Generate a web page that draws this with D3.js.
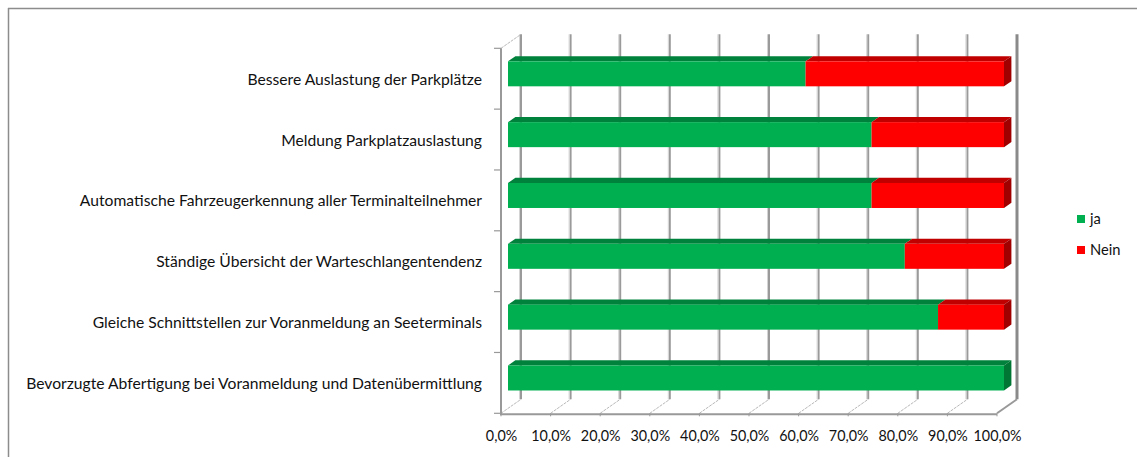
<!DOCTYPE html>
<html><head><meta charset="utf-8">
<script src="https://cdn.jsdelivr.net/npm/d3@7"></script>
<style>
html,body{margin:0;padding:0;background:#fff;}
svg{display:block;font-family:Lato,"Open Sans",sans-serif;}
</style></head>
<body>
<svg id="chart" width="1137" height="457"></svg>
<script>
const categories = [
  "Bessere Auslastung der Parkplätze",
  "Meldung Parkplatzauslastung ",
  "Automatische Fahrzeugerkennung aller Terminalteilnehmer",
  "Ständige Übersicht der Warteschlangentendenz",
  "Gleiche Schnittstellen zur Voranmeldung  an Seeterminals",
  "Bevorzugte Abfertigung bei Voranmeldung und Datenübermittlung"
];
const seriesNames = ["ja", "Nein"];
const jaValues = [60.0, 73.3, 73.3, 80.0, 86.7, 100.0];
const neinValues = [40.0, 26.7, 26.7, 20.0, 13.3, 0.0];
const xTicks = [0, 10, 20, 30, 40, 50, 60, 70, 80, 90, 100];

const colors = {
  ja: {front: "#00b050", top: "#00823c", side: "#007634"},
  Nein: {front: "#ff0000", top: "#c00000", side: "#a00000"}
};

const svg = d3.select("#chart");
const W = 1137, H = 457;

// frame
svg.append("line").attr("x1", 8.5).attr("y1", 8).attr("x2", 8.5).attr("y2", H).attr("stroke", "#8c8c8c").attr("stroke-width", 1.5);
svg.append("line").attr("x1", 8).attr("y1", 8.5).attr("x2", W).attr("y2", 8.5).attr("stroke", "#8c8c8c").attr("stroke-width", 1.5);

const x = d3.scaleLinear().domain([0, 100]).range([501, 997]);
const y = d3.scaleBand().domain(categories).range([48.3, 413.3]).paddingInner(0).paddingOuter(0);
const DX = 20, DY = -14;           // depth projection (full depth)
const yTop = y.range()[0], yBot = y.range()[1];

const deLocale = d3.formatLocale({decimal: ",", thousands: ".", grouping: [3], currency: ["", "€"]});
const fmt = v => deLocale.format(".1f")(v) + "%";

const grid = svg.append("g");
// back wall gridlines
xTicks.forEach((t, i) => {
  const xb = x(t) + DX;
  const last = i === xTicks.length - 1;
  grid.append("line")
    .attr("x1", xb).attr("x2", xb)
    .attr("y1", yTop + DY).attr("y2", yBot + DY)
    .attr("stroke", last ? "#8a8a8a" : "#9a9a9a")
    .attr("stroke-width", last ? 3 : 2);
  if (!last) {
    grid.append("line")
      .attr("x1", xb - 1.5).attr("x2", xb - 1.5)
      .attr("y1", yTop + DY).attr("y2", yBot + DY)
      .attr("stroke", "#d4d4d4").attr("stroke-width", 1);
  }
  // floor diagonals
  grid.append("line")
    .attr("x1", x(t)).attr("y1", yBot)
    .attr("x2", x(t) + DX).attr("y2", yBot + DY)
    .attr("stroke", last ? "#999" : "#b8b8b8")
    .attr("stroke-width", last ? 2 : 1)
    .attr("stroke-dasharray", last ? null : "3,1");
  // small tick below baseline
  grid.append("line")
    .attr("x1", x(t)).attr("x2", x(t))
    .attr("y1", yBot).attr("y2", yBot + 3)
    .attr("stroke", "#999").attr("stroke-width", 1);
});
// top-left wall edge diagonal
grid.append("line")
  .attr("x1", x(0)).attr("y1", yTop).attr("x2", x(0) + DX).attr("y2", yTop + DY)
  .attr("stroke", "#b8b8b8").attr("stroke-width", 1).attr("stroke-dasharray", "3,1");
// front left edge
grid.append("line")
  .attr("x1", x(0)).attr("x2", x(0)).attr("y1", yTop).attr("y2", yBot + 1)
  .attr("stroke", "#999").attr("stroke-width", 2);
// front baseline
grid.append("line")
  .attr("x1", x(0) - 1).attr("x2", x(100)).attr("y1", yBot + 1).attr("y2", yBot + 1)
  .attr("stroke", "#999").attr("stroke-width", 2);
// category ticks
const bounds = categories.map(c => y(c)).concat([yBot]);
bounds.forEach(b => {
  grid.append("line")
    .attr("x1", x(0) - 7).attr("x2", x(0)).attr("y1", b).attr("y2", b)
    .attr("stroke", "#999").attr("stroke-width", 1.2);
});

// bars
const z0 = 0.35, z1 = 0.72;
const barH = 25;
const stackData = categories.map((c, i) => ({cat: c, ja: jaValues[i], Nein: neinValues[i]}));
const stacked = d3.stack().keys(seriesNames)(stackData);

const barsG = svg.append("g");
categories.forEach((c, i) => {
  const g = barsG.append("g");
  const yc = y(c) + y.bandwidth() / 2;
  const yt = yc - barH / 2, yb = yc + barH / 2;
  const segs = stacked.map(s => ({key: s.key, a: s[i][0], b: s[i][1]})).filter(s => s.b - s.a > 0);
  segs.forEach((s, k) => {
    const xa = x(s.a), xb = x(s.b);
    const col = colors[s.key];
    // top face
    g.append("polygon")
      .attr("points", [[xa + DX * z0, yt + DY * z0], [xb + DX * z0, yt + DY * z0], [xb + DX * z1, yt + DY * z1], [xa + DX * z1, yt + DY * z1]].map(p => p.join(",")).join(" "))
      .attr("fill", col.top);
    // side face (only last segment)
    if (k === segs.length - 1) {
      g.append("polygon")
        .attr("points", [[xb + DX * z0, yt + DY * z0], [xb + DX * z1, yt + DY * z1], [xb + DX * z1, yb + DY * z1], [xb + DX * z0, yb + DY * z0]].map(p => p.join(",")).join(" "))
        .attr("fill", col.side);
    }
    // front face
    g.append("rect")
      .attr("x", xa + DX * z0).attr("y", yt + DY * z0)
      .attr("width", xb - xa).attr("height", barH)
      .attr("fill", col.front);
  });
});

// category axis labels
const yAxis = d3.axisLeft(y).tickSize(0).tickPadding(19);
const yAxisG = svg.append("g").attr("transform", `translate(${x(0)},0)`).call(yAxis);
yAxisG.select(".domain").remove();
yAxisG.selectAll("text").attr("fill", "#111").style("font-family", "Lato").attr("dy", "0.38em");

// x axis labels
const xAxis = d3.axisBottom(x).tickValues(xTicks).tickFormat(fmt).tickSize(0).tickPadding(18);
const xAxisG = svg.append("g").attr("transform", `translate(0,${yBot})`).call(xAxis);
xAxisG.select(".domain").remove();
xAxisG.selectAll("text").attr("fill", "#111").style("font-family", "Lato");

// legend
const legend = svg.append("g");
seriesNames.forEach((n, i) => {
  const ly = 219 + i * 31;
  legend.append("rect").attr("x", 1077).attr("y", ly - 4).attr("width", 8).attr("height", 8).attr("fill", colors[n].front);
  legend.append("text").attr("x", 1090).attr("y", ly).attr("dy", "0.36em").text(n).attr("fill", "#111").style("font-family", "Lato").attr("class", "legtext");
});

// fit font sizes to reference widths
function fit(sel, sampleNode, target) {
  sel.style("font-size", "14px");
  const w = sampleNode.getComputedTextLength();
  const fs = 14 * target / w;
  sel.style("font-size", fs.toFixed(2) + "px");
}
const yTexts = yAxisG.selectAll("text");
fit(yTexts, yTexts.nodes()[5], 456);
const xTexts = xAxisG.selectAll("text");
fit(xTexts, xTexts.nodes()[10], 48);
const lTexts = legend.selectAll("text");
fit(lTexts, lTexts.nodes()[1], 30.5);
</script>
</body></html>
